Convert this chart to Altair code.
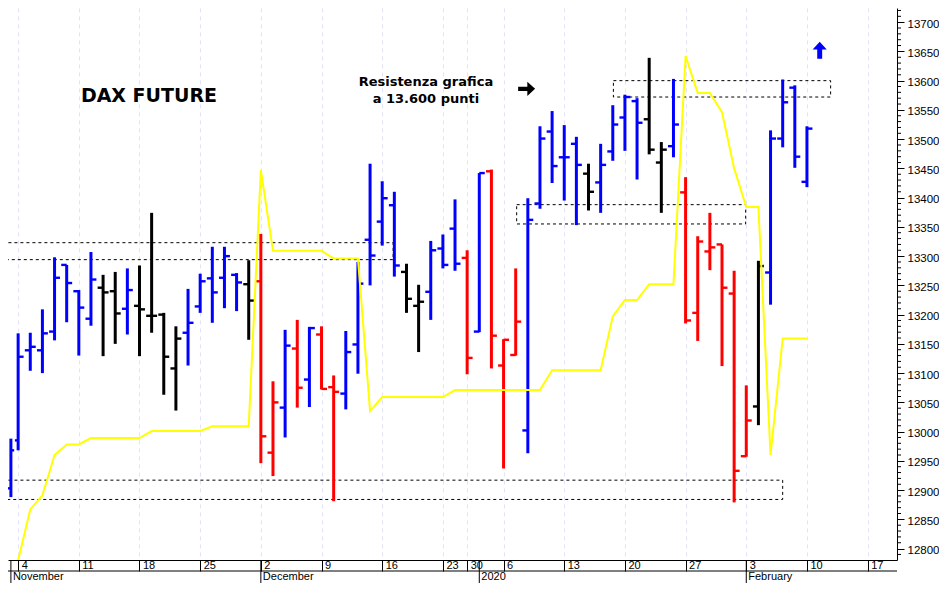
import altair as alt
import pandas as pd

# bar number: 0 is 1 Nov 2019, holidays are skipped so the count runs on trading days
highs = [12988, 13168, 13169, 13209, 13298, 13285, 13242, 13307, 13268, 13273, 13279, 13284, 13374, 13203, 13180, 13244, 13270,
         13316, 13316, 13271, 13293, 13338, 13086, 13174, 13191, 13179, 13180, 13096, 13172, 13290, 13458, 13428, 13410,
         13287, 13251, 13326, 13337, 13397, 13310, 13442, 13448, 13158, 13279, 13399, 13522, 13548, 13524, 13504, 13458,
         13492, 13558, 13576, 13570, 13639, 13495, 13603, 13435, 13334, 13374, 13320, 13275, 13079, 13292, 13515, 13602,
         13592, 13522]
lows = [12888, 12968, 13104, 13100, 13156, 13187, 13130, 13181, 13129, 13150, 13166, 13129, 13169, 13063, 13036, 13113, 13203,
        13186, 13211, 13206, 13157, 12946, 12924, 12990, 13041, 13042, 13072, 12881, 13038, 13099, 13250, 13318, 13265,
        13203, 13136, 13191, 13279, 13275, 13098, 13170, 13108, 12937, 13130, 12963, 13381, 13425, 13395, 13353, 13378,
        13374, 13463, 13480, 13431, 13474, 13374, 13469, 13185, 13155, 13276, 13112, 12879, 12957, 13011, 13217, 13486,
        13451, 13418]
opens = [12903, 12985, 13139, 13139, 13171, 13285, 13240, 13193, 13246, 13240, 13210, 13215, 13198, 13200, 13108, 13169, 13214,
         13262, 13263, 13268, 13252, 13257, 12964, 13041, 13142, 13089, 13166, 13076, 13065, 13149, 13328, 13359, 13387,
         13273, 13215, 13239, 13313, 13347, 13297, 13171, 13445, 13113, 13131, 13002, 13390, 13513, 13469, 13492, 13441,
         13426, 13479, 13537, 13565, 13534, 13460, 13488, 13409, 13203, 13308, 13320, 13236, 12958, 13043, 13272, 13501,
         13588, 13427]
closes = [12968, 13128, 13145, 13168, 13263, 13254, 13212, 13260, 13238, 13202, 13242, 13209, 13198, 13128, 13159, 13186, 13257,
          13238, 13300, 13255, 13224, 12992, 13050, 13147, 13075, 13177, 13073, 13068, 13136, 13253, 13301, 13399, 13284,
          13227, 13222, 13310, 13285, 13287, 13126, 13442, 13164, 13157, 13188, 13362, 13501, 13454, 13469, 13456, 13410,
          13456, 13525, 13572, 13528, 13482, 13482, 13525, 13190, 13325, 13315, 13246, 12933, 13019, 13283, 13501, 13563,
          13470, 13518]
colors = ['blue'] * 8 + ['black', 'black', 'blue', 'black', 'black', 'black', 'black', 'blue', 'blue', 'blue', 'blue', 'blue',
          'black', 'red', 'red', 'blue', 'red', 'blue', 'red', 'red', 'blue', 'blue', 'blue', 'blue', 'blue', 'black',
          'black', 'blue', 'blue', 'blue', 'red', 'blue', 'red', 'red', 'red', 'blue', 'blue', 'blue', 'blue', 'blue',
          'black', 'blue', 'blue', 'blue', 'blue', 'black', 'black', 'blue', 'red', 'red', 'red', 'red', 'red', 'red',
          'black', 'blue', 'blue', 'blue', 'blue']

# yellow line starts on the second bar
line_vals = [12780, 12867, 12891, 12960, 12978, 12978, 12989, 12989, 12989, 12989, 12989, 13001, 13001, 13001, 13001, 13001,
             13009, 13009, 13009, 13009, 13447, 13309, 13309, 13309, 13309, 13309, 13296, 13296, 13296, 13035, 13059,
             13059, 13059, 13059, 13059, 13059, 13071, 13071, 13071, 13071, 13071, 13071, 13071, 13071, 13105, 13105,
             13105, 13105, 13105, 13197, 13225, 13225, 13252, 13252, 13252, 13642, 13579, 13579, 13546, 13450, 13384,
             13384, 12960, 13159, 13159, 13159]

day_pos = [1, 6, 11, 16, 21, 26, 31, 36, 38, 41, 46, 51, 56, 61, 66, 71]
day_labels = ['4', '11', '18', '25', '2', '9', '16', '23', '30', '6', '13', '20', '27', '3', '10', '17']
month_pos = [0, 21, 39, 61]
month_labels = ['November', 'December', '2020', 'February']

# dashed boxes: start bar, end bar, top, bottom
zone_x0 = [-2, -2, 42.08, 50.05]
zone_x1 = [31.9, 64, 60.95, 67.95]
zone_top = [13323, 12917, 13388, 13600]
zone_bot = [13294, 12884, 13355, 13572]

notes = ['DAX FUTURE', 'Resistenza grafica', 'a 13.600 punti']
note_x = [11.78, 34.6, 34.6]
note_y = [13573, 13597, 13569]
note_size = [19, 13, 13]

major = list(range(12800, 13701, 50))
minor = [v for v in range(12790, 13721, 10) if v % 50 != 0]

W = 889
H = 552

df = pd.DataFrame({'i': range(len(highs)), 'high': highs, 'low': lows, 'open': opens, 'close': closes, 'color': colors})
df['left'] = df['i'] - 0.45
df['right'] = df['i'] + 0.45
df_line = pd.DataFrame({'i': range(1, len(line_vals) + 1), 'v': line_vals})
df_zone = pd.DataFrame({'x0': zone_x0, 'x1': zone_x1, 'top': zone_top, 'bot': zone_bot})
df_note = pd.DataFrame({'x': note_x, 'y': note_y, 'txt': notes, 'size': note_size})
df_month = pd.DataFrame({'i': month_pos, 'txt': month_labels})

# first bar sits almost on the page margin, so the first slot is squeezed a bit
xs = alt.Scale(domain=[-0.4, 1, 73.42], range=[0, 10.14, W], nice=False, zero=False)
ys = alt.Scale(domain=[12780.5, 13724.2], nice=False, zero=False)

label_expr = "[" + ",".join("'%s'" % s for s in day_labels) + "][indexof(" + str(day_pos) + ", datum.value)]"
x_axis = alt.Axis(values=day_pos, labelExpr=label_expr, title=None, orient='bottom', grid=True, gridColor='#e2e2fa',
                  gridDash=[4, 4], gridWidth=1, tickSize=11, tickColor='black', domainColor='black', labelAlign='left',
                  labelBaseline='middle', labelPadding=-5.5, labelOffset=3, labelFont='Liberation Sans', labelFontSize=11,
                  labelColor='black', labelOverlap=False, labelFlush=False)
y_axis = alt.Axis(values=major, format='d', title=None, orient='right', grid=False, tickSize=7, tickColor='black',
                  domainColor='black', labelPadding=3, labelOffset=2, labelFont='Liberation Sans', labelFontSize=11.5,
                  labelColor='black', labelOverlap=False, labelFlush=False)


def X(field):
    return alt.X(field, scale=xs, axis=x_axis)


def Y(field):
    return alt.Y(field, scale=ys, axis=y_axis)


zones = alt.Chart(df_zone).mark_rect(fillOpacity=0, stroke='black', strokeWidth=1, strokeDash=[3, 3], clip=True).encode(
    X('x0:Q'), x2='x1:Q', y=Y('top:Q'), y2='bot:Q')

col = alt.Color('color:N', scale=None)
bars = alt.Chart(df).mark_rule(strokeWidth=3).encode(X('i:Q'), y=Y('high:Q'), y2='low:Q', color=col)
ticks_open = alt.Chart(df).mark_rule(strokeWidth=2.4).encode(X('left:Q'), x2='i:Q', y=Y('open:Q'), color=col)
ticks_close = alt.Chart(df).mark_rule(strokeWidth=2.4).encode(X('i:Q'), x2='right:Q', y=Y('close:Q'), color=col)

line = alt.Chart(df_line).mark_line(color='#ffff00', strokeWidth=2, clip=True).encode(X('i:Q'), Y('v:Q'))

texts = alt.Chart(df_note).mark_text(font='DejaVu Sans', fontWeight='bold', color='black', baseline='middle').encode(
    X('x:Q'), Y('y:Q'), text='txt:N', size=alt.Size('size:Q', scale=None))

right_arrow = alt.Chart(pd.DataFrame({'x': [42.9], 'y': [13586]})).mark_point(
    shape='M -1.2 -0.3 L 0.1 -0.3 L 0.1 -1 L 1.2 0 L 0.1 1 L 0.1 0.3 L -1.2 0.3 Z',
    filled=True, color='black', opacity=1, size=200).encode(X('x:Q'), Y('y:Q'))
up_arrow = alt.Chart(pd.DataFrame({'x': [67.05], 'y': [13652]})).mark_point(
    shape='M 0 -1.2 L 1 -0.1 L 0.35 -0.1 L 0.35 1.2 L -0.35 1.2 L -0.35 -0.1 L -1 -0.1 Z',
    filled=True, color='blue', opacity=1, size=200).encode(X('x:Q'), Y('y:Q'))

minor_ticks = alt.Chart(pd.DataFrame({'v': minor})).mark_rule(color='black', strokeWidth=1, clip=False).encode(
    x=alt.value(W), x2=alt.value(W + 4), y=Y('v:Q'))

band_line = alt.Chart(pd.DataFrame({'a': [0]})).mark_rule(color='black', strokeWidth=1).encode(
    x=alt.value(0), x2=alt.value(W), y=alt.value(H + 11))
month_ticks = alt.Chart(df_month).mark_rule(color='black', strokeWidth=1).encode(
    X('i:Q'), y=alt.value(H), y2=alt.value(H + 23))
month_text = alt.Chart(df_month).mark_text(font='Liberation Sans', fontSize=11, color='black', align='left',
                                           baseline='middle', dx=2).encode(
    X('i:Q'), y=alt.value(H + 16.5), text='txt:N')

chart = alt.layer(zones, bars, ticks_open, ticks_close, line, texts, right_arrow, up_arrow, minor_ticks, band_line,
                  month_ticks, month_text).properties(
    width=W, height=H, background='white', padding={'left': 0, 'top': 0, 'right': 42, 'bottom': 23},
    autosize=alt.AutoSizeParams(type='none')
).configure_view(strokeWidth=0)

chart.save("out.html", embed_options={"renderer": "svg", "actions": False})
